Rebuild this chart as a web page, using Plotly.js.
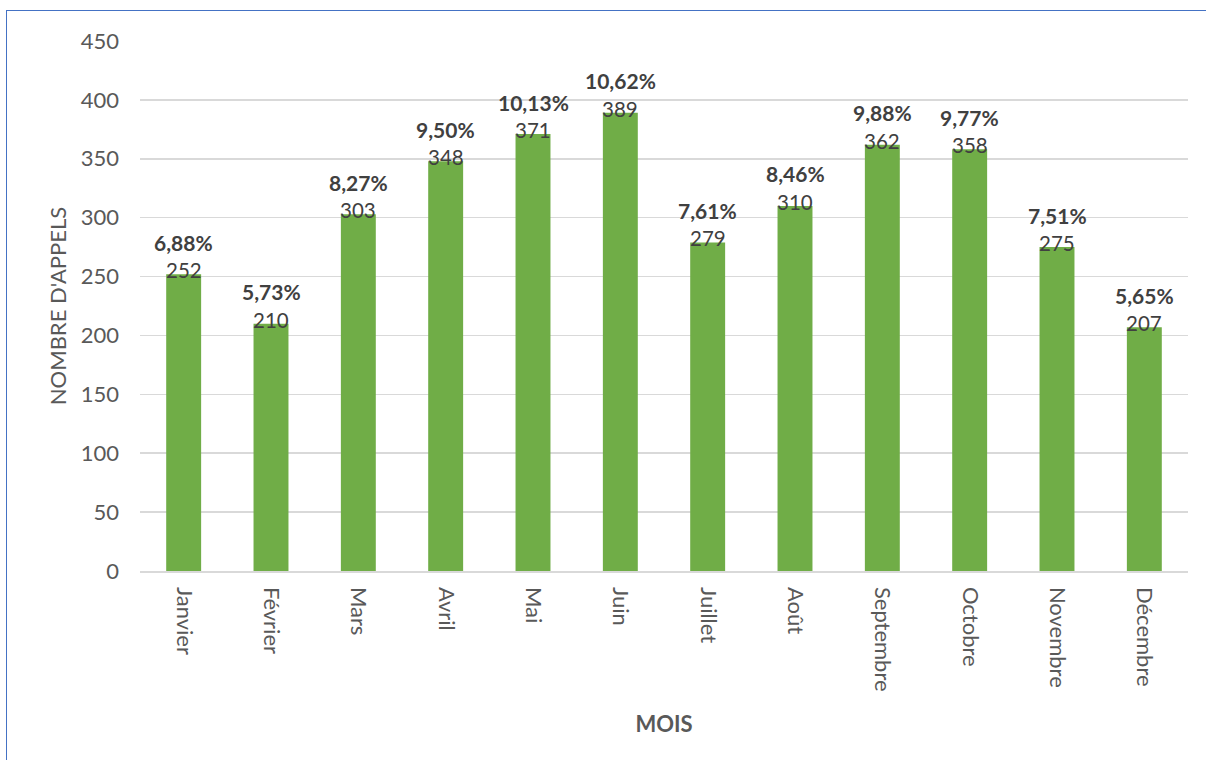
<!DOCTYPE html>
<html>
<head>
<meta charset="utf-8">
<script src="https://cdn.plot.ly/plotly-3.0.1.min.js"></script>
<style>
html,body{margin:0;padding:0;background:#fff;overflow:hidden;}
#chart{position:absolute;left:0;top:0;width:1206px;height:760px;}
#frame{position:absolute;left:6px;top:10px;width:1400px;height:1000px;border-left:1.5px solid #4472C4;border-top:1.5px solid #4472C4;pointer-events:none;}
</style>
</head>
<body>
<div id="chart"></div>
<div id="frame"></div>
<script>
var months = ["Janvier","Février","Mars","Avril","Mai","Juin","Juillet","Août","Septembre","Octobre","Novembre","Décembre"];
var calls = [252,210,303,348,371,389,279,310,362,358,275,207];
var percents = ["6,88%","5,73%","8,27%","9,50%","10,13%","10,62%","7,61%","8,46%","9,88%","9,77%","7,51%","5,65%"];
var yTicks = [0,50,100,150,200,250,300,350,400,450];

var FONT = "Lato, 'Open Sans', sans-serif";

var annotations = [];
months.forEach(function(m,i){
  annotations.push({x:m, y:calls[i], xref:'x', yref:'y', text:String(calls[i]), showarrow:false,
    yanchor:'middle', yshift:4, font:{family:FONT, size:20.5, color:'#404040'}});
  annotations.push({x:m, y:calls[i], xref:'x', yref:'y', text:'<b>'+percents[i]+'</b>', showarrow:false,
    yanchor:'middle', yshift:32, font:{family:FONT, size:21, color:'#404040'}});
});

var data = [{
  type:'bar', x:months, y:calls,
  marker:{color:'#70AD47'},
  hoverinfo:'x+y'
}];

var layout = {
  width:1206, height:760,
  margin:{l:140, r:18, t:41, b:189},
  paper_bgcolor:'#fff', plot_bgcolor:'#fff',
  bargap:0.6,
  showlegend:false,
  font:{family:FONT, color:'#595959'},
  xaxis:{
    type:'category', tickangle:90, automargin:false,
    tickfont:{family:FONT, size:22, color:'#595959'},
    ticks:'', ticklabelstandoff:10,
    showline:true, linecolor:'#d9d9d9', linewidth:1.5,
    title:{text:'<b>MOIS</b>', font:{family:FONT, size:22, color:'#595959'}, standoff:26}
  },
  yaxis:{
    range:[0,450], tickvals:yTicks, automargin:false,
    tickfont:{family:FONT, size:22, color:'#595959'},
    ticks:'', ticklabelstandoff:20,
    showgrid:true, gridcolor:'#d9d9d9', gridwidth:1.5,
    zeroline:false,
    title:{text:"NOMBRE D'APPELS", font:{family:FONT, size:22, color:'#595959'}, standoff:8}
  },
  annotations:annotations
};

Plotly.newPlot('chart', data, layout, {displayModeBar:false, staticPlot:true});
</script>
</body>
</html>
